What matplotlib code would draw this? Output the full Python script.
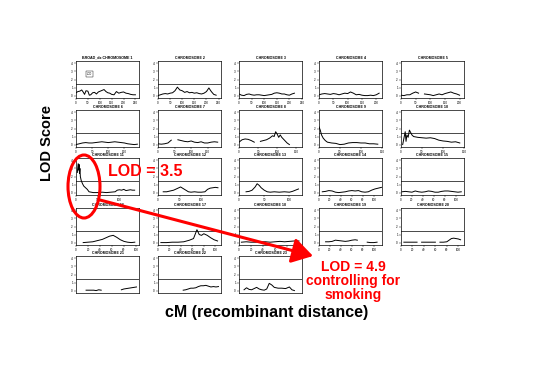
import numpy as np
import matplotlib
matplotlib.use('Agg')
import matplotlib.pyplot as plt
from matplotlib.patches import Ellipse, FancyArrowPatch

plt.rcParams['font.family'] = ['Liberation Sans', 'DejaVu Sans']

nan = np.nan

# LOD curves, one per chromosome: cM positions and LOD values
chr1_cm = [0, 8, 16, 24, 30, 36, 42, 50, 56, 62, 70, 78, 86, 94, 102, 110, 118, 126, 134, 142,
           150, 160, 170, 180, 190, 200, 210, 220, 230, 240, 250]
chr1_lod = [0.35, 0.5, 0.55, 0.7, 0.45, 0.15, 0.6, 0.55, 0.05, 0.1, 0.35, 0.4, 0.2, 0.45, 0.55, 0.65, 0.75, 0.5, 0.35, 0.3,
            0.15, 0.1, 0.5, 0.3, 0.4, 0.45, 0.3, 0.25, 0.15, 0.1, 0.1]
chr2_cm = [0, 10, 20, 30, 40, 50, 60, 70, 80, 90, 100, 110, 120, 130, 140, 150, 160, 170, 180, 190, 200, 210, 220, 230, 240]
chr2_lod = [0.0, 0.1, 0.2, 0.25, 0.2, 0.3, 0.35, 0.6, 1.05, 0.7, 0.6, 0.4, 0.5, 0.35, 0.4, 0.3, 0.35, 0.25, 0.2, 0.3,
            0.5, 0.95, 0.5, 0.15, 0.05]
chr3_cm = [0, 10, 20, 30, 40, 50, 60, 70, 80, 90, 100, 110, 120, 130, 140, 150, 160, 170, 180, 190, 200, 210, 220]
chr3_lod = [0.2, 0.05, 0.0, 0.15, 0.2, 0.1, 0.05, 0.1, 0.1, 0.05, 0.0, 0.05, 0.1, 0.15, 0.3, 0.35, 0.3, 0.2, 0.2, 0.1,
            0.05, 0.2, 0.3]
chr4_cm = [0, 10, 20, 30, 40, 50, 60, 70, 80, 90, 100, 110, 120, 130, 140, 150, 160, 170, 180, 190, 200, 210]
chr4_lod = [0.1, 0.2, 0.25, 0.2, 0.15, 0.25, 0.2, 0.1, 0.2, 0.3, 0.25, 0.45, 0.3, 0.1, 0.15, 0.05, 0.0, 0.0, 0.05, 0.0,
            0.1, 0.3]
chr5_cm = [0, 10, 20, 30, 40, 50, 60, 70, 80, 90, 100, 110, 120, 130, 140, 150, 160, 170, 180, 190, 200]
chr5_lod = [0.05, 0.0, 0.1, 0.1, 0.3, 0.45, 0.3, nan, 0.2, 0.15, 0.1, 0.0, 0.1, 0.2, 0.1, 0.25, 0.35, 0.45, 0.3, 0.2, 0.05]
chr6_cm = [0, 10, 20, 30, 40, 50, 60, 70, 80, 90, 100, 110, 120, 130, 140, 150, 160, 170, 180, 190]
chr6_lod = [0.0, 0.1, 0.2, 0.25, 0.2, 0.2, 0.25, 0.3, 0.35, 0.3, 0.25, 0.3, 0.35, 0.3, 0.25, 0.2, 0.1, 0.05, 0.0, 0.05]
chr7_cm = [0, 10, 20, 30, 40, 50, 60, 70, 80, 90, 100, 110, 120, 130, 140, 150, 160, 170, 180]
chr7_lod = [0.1, 0.05, 0.1, 0.2, 0.55, nan, 0.6, 0.5, 0.4, 0.35, 0.45, 0.3, 0.25, 0.35, 0.2, 0.2, 0.3, 0.35, 0.3]
chr8_cm = [0, 8, 16, 24, 32, 40, 48, 56, 64, 72, 80, 88, 92, 96, 100, 104, 108, 112, 116, 120, 126, 132]
chr8_lod = [0.3, 0.6, 0.7, 0.65, 0.5, 0.3, nan, 0.4, 0.5, 0.6, 0.8, 1.1, 1.0, 1.6, 1.3, 0.9, 1.2, 0.9, 0.7, 0.5, 0.2, 0.0]
chr9_cm = [0, 3, 6, 10, 15, 20, 25, 30, 40, 50, 60, 70, 80, 90, 100, 110, 120, 130, 140]
chr9_lod = [2.2, 1.8, 1.2, 0.8, 0.5, 0.3, 0.25, 0.2, 0.15, 0.0, 0.05, 0.2, 0.25, 0.25, 0.2, 0.2, 0.1, 0.1, 0.05]
chr10_cm = [4, 7, 10, 12, 14, 17, 20, 23, 26, 30, 35, 40, 50, 60, 70, 80, 90, 100, 110, 120, 130, 140]
chr10_lod = [0.0, 0.8, 1.6, 0.4, 1.2, 0.9, 1.8, 1.5, 1.2, 1.0, 0.95, 0.9, 0.85, 0.8, 0.85, 0.75, 0.55, 0.45, 0.4, 0.3,
             0.35, 0.2]
chr11_cm = [3, 5, 6, 7, 8, 9, 10, 12, 15, 18, 22, 26, 30, 40, 50, 60, 70, 80, 90, 95,
            100, 105, 110, 115, 120, 125, 130, 135]
chr11_lod = [2.5, 3.6, 2.8, 3.5, 2.4, 3.0, 2.0, 1.5, 1.1, 0.8, 0.6, 0.4, 0.1, 0.0, 0.0, 0.05, 0.0, 0.05, 0.1, 0.3,
             0.35, 0.3, 0.4, 0.25, 0.3, 0.35, 0.3, 0.3]
chr12_cm = [12, 20, 28, 36, 44, 52, 58, 64, 70, 76, 84, 92, 100, 108, 114, 120, 126, 132, 138]
chr12_lod = [0.1, 0.1, 0.2, 0.3, 0.5, 0.7, 0.5, 0.3, 0.1, 0.05, 0.1, 0.05, 0.05, 0.1, 0.4, 0.55, 0.6, 0.65, 0.6]
chr13_cm = [14, 20, 26, 32, 36, 40, 44, 50, 56, 62, 70, 80, 90, 100, 106, 112, 118]
chr13_lod = [0.1, 0.15, 0.3, 0.7, 1.1, 0.9, 0.6, 0.3, 0.1, 0.05, 0.1, 0.05, 0.1, 0.05, 0.15, 0.3, 0.45]
chr14_cm = [6, 12, 18, 24, 30, 36, 42, 48, 54, 60, 66, 72, 78, 84, 90, 96, 102, 108, 114]
chr14_lod = [0.1, 0.15, 0.25, 0.2, 0.05, 0.0, 0.05, 0.1, 0.2, 0.25, 0.2, 0.25, 0.1, 0.05, 0.1, 0.3, 0.45, 0.55, 0.65]
chr15_cm = [2, 8, 14, 20, 26, 32, 38, 44, 50, 56, 62, 68, 74, 80, 86, 92, 98, 104, 110]
chr15_lod = [0.1, 0.15, 0.1, 0.05, 0.2, 0.1, 0.05, 0.1, 0.2, 0.15, 0.05, 0.05, 0.15, 0.2, 0.2, 0.15, 0.1, 0.05, 0.1]
chr16_cm = [12, 20, 28, 36, 44, 50, 56, 62, 68, 74, 80, 86, 92, 98]
chr16_lod = [0.0, 0.05, 0.1, 0.25, 0.4, 0.6, 0.8, 0.9, 0.65, 0.35, 0.15, 0.05, 0.0, 0.05]
chr17_cm = [5, 15, 25, 35, 45, 55, 62, 68, 72, 76, 80, 86, 92, 98, 104]
chr17_lod = [0.0, 0.0, 0.05, 0.05, 0.1, 0.3, 0.5, 1.6, 1.0, 0.9, 1.1, 0.9, 0.6, 0.35, 0.2]
chr18_cm = [4, 12, 20, 28, 36, 44, 52, 60, 68, 76, 84, 92, 100]
chr18_lod = [0.05, 0.1, 0.05, 0.05, 0.1, 0.1, 0.05, 0.1, 0.15, 0.1, 0.15, 0.2, 0.2]
chr19_cm = [12, 18, 24, 30, 36, 42, 48, 54, 60, 66, 70, 74, 78, 82, 88, 94, 100, 106]
chr19_lod = [0.1, 0.1, 0.15, 0.3, 0.25, 0.2, 0.15, 0.2, 0.3, 0.35, 0.3, nan, 0.05, nan, 0.05, 0.0, 0.0, 0.05]
chr20_cm = [5, 12, 20, 28, 32, 36, 44, 52, 60, 64, 68, 74, 80, 84, 88, 92, 96, 100, 104]
chr20_lod = [0.05, 0.05, 0.05, 0.05, nan, 0.05, 0.05, 0.05, 0.05, nan, 0.05, 0.05, 0.1, 0.3, 0.5, 0.55, 0.5, 0.45, 0.35]
chr21_cm = [16, 22, 28, 32, 36, 40, 44, 48, 56, 60, 64, 72, 76, 80, 84, 88, 92, 96]
chr21_lod = [0.05, 0.05, 0.05, 0.0, 0.1, 0.05, nan, 0.05, nan, 0.05, nan, 0.1, 0.2, 0.25, 0.3, 0.35, 0.4, 0.45]
chr22_cm = [40, 44, 48, 52, 56, 60, 64, 68, 72, 76, 80, 84, 88, 92, 96]
chr22_lod = [0.05, 0.1, 0.2, 0.3, 0.3, 0.35, 0.5, 0.6, 0.6, 0.65, 0.55, 0.45, 0.5, 0.45, 0.5]
chr23_cm = [8, 12, 16, 20, 24, 28, 32, 36, 40, 44, 48, 52, 56, 62, 68, 74, 80, 84, 88]
chr23_lod = [0.1, 0.35, 0.15, 0.1, 0.25, 0.4, 0.2, 0.1, 0.05, 0.2, 0.9, 0.7, 0.4, 0.3, 0.3, 0.25, 0.45, 0.1, 0.0]

curves = [(chr1_cm, chr1_lod), (chr2_cm, chr2_lod), (chr3_cm, chr3_lod), (chr4_cm, chr4_lod), (chr5_cm, chr5_lod),
          (chr6_cm, chr6_lod), (chr7_cm, chr7_lod), (chr8_cm, chr8_lod), (chr9_cm, chr9_lod), (chr10_cm, chr10_lod),
          (chr11_cm, chr11_lod), (chr12_cm, chr12_lod), (chr13_cm, chr13_lod), (chr14_cm, chr14_lod), (chr15_cm, chr15_lod),
          (chr16_cm, chr16_lod), (chr17_cm, chr17_lod), (chr18_cm, chr18_lod), (chr19_cm, chr19_lod), (chr20_cm, chr20_lod),
          (chr21_cm, chr21_lod), (chr22_cm, chr22_lod), (chr23_cm, chr23_lod)]

titles = ['BROAD_dx CHROMOSOME 1'] + ['CHROMOSOME %d' % i for i in range(2, 24)]
x_max = [265, 260, 235, 220, 215, 195, 190, 165, 150, 150, 145, 145, 125, 115, 115,
         105, 110, 105, 115, 110, 100, 100, 100]
ticks_a = [0, 50, 100, 150, 200, 250]
ticks_b = [0, 50, 100, 150, 200]
ticks_c = [0, 50, 100, 150]
ticks_d = [0, 50, 100]
ticks_e = [0, 20, 40, 60, 80, 100]
x_ticks = [ticks_a, ticks_a, ticks_a, ticks_b, ticks_b,
           ticks_c, ticks_c, ticks_c, ticks_c, ticks_c,
           ticks_d, ticks_d, ticks_d, ticks_e, ticks_e,
           ticks_e, ticks_e, ticks_e, ticks_e, ticks_e,
           [], [], []]
y_ticks = [0, 1, 2, 3, 4]
threshold = 1.4

W, H = 550, 377
fig = plt.figure(figsize=(5.5, 3.77), dpi=100)

lefts = [76, 158, 239, 319, 401]
tops = [61, 110, 158, 208, 256]
pw, ph = 63, 37

for i, (cm, lod) in enumerate(curves):
    r, c = divmod(i, 5)
    ax = fig.add_axes([lefts[c] / W, 1 - (tops[r] + ph) / H, pw / W, ph / H])
    ax.plot(cm, lod, color='black', lw=0.7)
    ax.axhline(threshold, color='black', lw=0.5)
    ax.set_xlim(0, x_max[i])
    ax.set_ylim(-0.3, 4.3)
    ax.set_xticks(x_ticks[i])
    ax.set_yticks(y_ticks)
    ax.tick_params(labelsize=2.2, length=1.2, width=0.3, pad=1)
    for s in ax.spines.values():
        s.set_linewidth(0.5)
    ax.set_title(titles[i], fontsize=2.6, fontweight='bold', pad=1.5)
    if i == 0:
        ax.text(0.22, 0.66, 'LOD', fontsize=1.8, transform=ax.transAxes, ha='center', va='center',
                bbox=dict(boxstyle='square,pad=0.4', fc='white', ec='black', lw=0.3))


def fx(x):
    return x / W


def fy(y):
    return 1 - y / H


fig.text(fx(47), fy(143), 'LOD Score', rotation=90, fontsize=10.5, fontweight='bold', ha='center', va='center')
fig.text(fx(267), fy(313), 'cM (recombinant distance)', fontsize=11.5, fontweight='bold', ha='center', va='center')
fig.text(fx(145), fy(171), 'LOD = 3.5', fontsize=11.5, fontweight='bold', color='red', ha='center', va='center')
fig.text(fx(353), fy(281), 'LOD = 4.9\ncontrolling for\nsmoking', fontsize=10, fontweight='bold', color='red',
         ha='center', va='center', linespacing=1.0)

fig.add_artist(Ellipse((fx(84), fy(186.5)), 32 / W, 63 / H, transform=fig.transFigure,
                       fill=False, ec='red', lw=2.2))
fig.add_artist(FancyArrowPatch((fx(100), fy(200)), (fx(313), fy(256)), transform=fig.transFigure,
                               arrowstyle='-|>,head_length=0.9,head_width=0.55', mutation_scale=14,
                               color='red', lw=2.2, shrinkA=0, shrinkB=0))

fig.savefig('out.png', dpi=100)
